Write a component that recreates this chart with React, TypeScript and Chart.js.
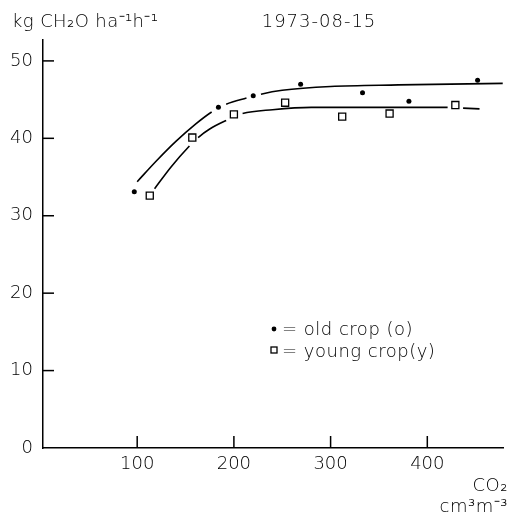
import React, { useEffect, useRef } from "react";
import { Chart, registerables } from "chart.js";

Chart.register(...registerables);

// measured points
const oldX = [97, 184, 220, 269, 333, 381, 452];
const oldY = [33.1, 44.0, 45.5, 47.0, 45.9, 44.8, 47.5];
const youngX = [113, 157, 200, 253, 312, 361, 429];
const youngY = [32.6, 40.1, 43.1, 44.6, 42.8, 43.2, 44.3];

// hand-drawn fitted curves; gaps start after listed indices
const oldFitX = [100, 120, 140, 160, 177, 192, 213, 228, 250, 300, 370, 478];
const oldFitY = [34.4, 37.1, 39.6, 41.8, 43.4, 44.4, 45.2, 45.7, 46.2, 46.7, 46.9, 47.1];
const oldFitGaps = [4, 6];
const youngFitX = [118, 135, 154, 163, 175, 192, 209, 240, 280, 350, 421, 437, 454];
const youngFitY = [33.5, 36.3, 39.0, 40.1, 41.2, 42.3, 43.2, 43.7, 44.0, 44.0, 44.0, 43.9, 43.8];
const youngFitGaps = [2, 5, 10];

const xTicks = [100, 200, 300, 400];
const yTicks = [0, 10, 20, 30, 40, 50];

const FONT = '"DejaVu Sans", sans-serif';

const zip = (xs: number[], ys: number[]) => xs.map((x, i) => ({ x, y: ys[i] }));

const decorPlugin = {
  id: "decor",
  afterDraw(chart: any) {
    const ctx = chart.ctx as any;
    const xs = chart.scales.x;
    const ys = chart.scales.y;
    const left = xs.left;
    const bottom = ys.bottom;
    ctx.save();
    ctx.fillStyle = "#000";
    // inward tick marks
    yTicks.forEach((v) => {
      if (v === 0) return;
      const py = ys.getPixelForValue(v);
      ctx.fillRect(left, py - 0.75, 11, 1.5);
    });
    xTicks.forEach((v) => {
      const px = xs.getPixelForValue(v);
      ctx.fillRect(px - 0.75, bottom - 12, 1.5, 12);
    });

    ctx.font = `300 18px ${FONT}`;
    ctx.textBaseline = "alphabetic";
    ctx.textAlign = "left";
    ctx.letterSpacing = "0.4px";
    ctx.fillText("kg CH\u2082O ha\u207B\u00B9h\u207B\u00B9", 12, 27);
    ctx.textAlign = "center";
    ctx.letterSpacing = "1px";
    ctx.fillText("1973-08-15", 319, 27);
    ctx.textAlign = "right";
    ctx.letterSpacing = "0.5px";
    ctx.fillText("CO\u2082", 508, 491);
    ctx.fillText("cm\u00B3m\u207B\u00B3", 508, 512);

    // legend
    ctx.textAlign = "left";
    ctx.fillText("= old crop (o)", 282, 335);
    ctx.fillText("= young crop(y)", 282, 357);
    ctx.beginPath();
    ctx.arc(274, 329, 2.4, 0, Math.PI * 2);
    ctx.fill();
    ctx.strokeStyle = "#000";
    ctx.lineWidth = 1.3;
    ctx.strokeRect(271, 347, 6, 6);
    ctx.restore();
  },
};

const gapColor = (gaps: number[]) => (c: any) =>
  gaps.includes(c.p0DataIndex) ? "rgba(0,0,0,0)" : "#000";

export default function App() {
  const ref = useRef<HTMLCanvasElement | null>(null);
  useEffect(() => {
    if (!ref.current) return;
    const chart = new Chart(ref.current, {
      type: "scatter",
      data: {
        datasets: [
          {
            label: "old crop (o)",
            data: zip(oldX, oldY),
            pointStyle: "circle",
            pointRadius: 2.5,
            backgroundColor: "#000",
            borderColor: "#000",
            borderWidth: 0,
            order: 0,
          },
          {
            label: "young crop (y)",
            data: zip(youngX, youngY),
            pointStyle: "rect",
            pointRadius: 5,
            backgroundColor: "#fff",
            borderColor: "#000",
            borderWidth: 1.3,
            order: 0,
          },
          {
            label: "old crop fit",
            data: zip(oldFitX, oldFitY),
            showLine: true,
            borderColor: "#000",
            borderWidth: 1.6,
            pointRadius: 0,
            cubicInterpolationMode: "monotone",
            segment: { borderColor: gapColor(oldFitGaps) },
            order: 2,
          },
          {
            label: "young crop fit",
            data: zip(youngFitX, youngFitY),
            showLine: true,
            borderColor: "#000",
            borderWidth: 1.6,
            pointRadius: 0,
            cubicInterpolationMode: "monotone",
            segment: { borderColor: gapColor(youngFitGaps) },
            order: 2,
          },
        ],
      },
      options: {
        animation: false,
        responsive: false,
        layout: { padding: { left: 0, top: 40, right: 2, bottom: 42 } },
        plugins: {
          legend: { display: false },
          tooltip: { enabled: false },
          title: { display: false },
        },
        scales: {
          x: {
            type: "linear",
            min: 2.6,
            max: 479,
            afterBuildTicks: (s: any) => {
              s.ticks = xTicks.map((v) => ({ value: v }));
            },
            afterFit: (s: any) => {
              s.height = 30;
            },
            grid: { display: true, drawOnChartArea: false, drawTicks: false },
            border: { display: true, color: "#000", width: 1.5 },
            ticks: {
              color: "#000",
              padding: 6,
              font: { family: FONT, size: 18, weight: "300" as any },
              maxRotation: 0,
            },
          },
          y: {
            type: "linear",
            min: 0,
            max: 52.7,
            afterBuildTicks: (s: any) => {
              s.ticks = yTicks.map((v) => ({ value: v }));
            },
            afterFit: (s: any) => {
              s.width = 43;
            },
            grid: { display: true, drawOnChartArea: false, drawTicks: false },
            border: { display: true, color: "#000", width: 1.5 },
            ticks: {
              color: "#000",
              padding: 10,
              font: { family: FONT, size: 18, weight: "300" as any },
            },
          },
        },
      },
      plugins: [decorPlugin],
    });
    return () => chart.destroy();
  }, []);
  return (
    <canvas
      ref={ref}
      width={510}
      height={520}
      style={{ position: "absolute", left: 0, top: 0, width: 510, height: 520 }}
    />
  );
}
